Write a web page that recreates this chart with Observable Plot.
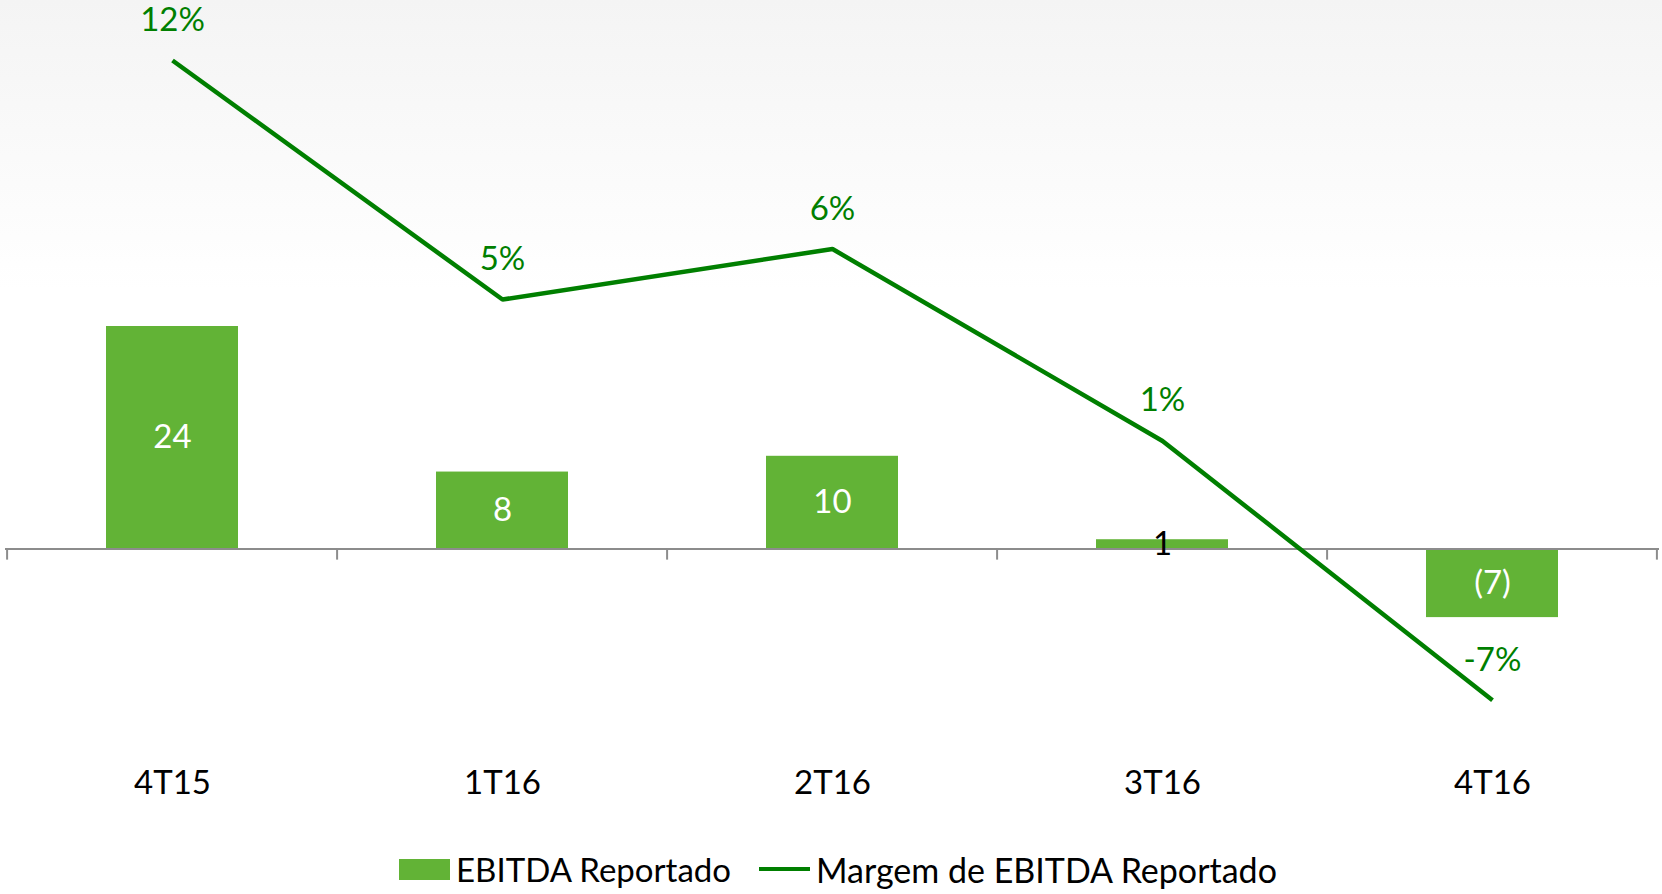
<!DOCTYPE html>
<html>
<head>
<meta charset="utf-8">
<script src="https://cdn.jsdelivr.net/npm/d3@7"></script>
<script src="https://cdn.jsdelivr.net/npm/@observablehq/plot@0.6"></script>
<style>
  html, body { margin: 0; padding: 0; }
  body {
    width: 1662px; height: 894px; overflow: hidden;
    background: linear-gradient(180deg, #f4f4f4 0px, #f9f9f9 130px, #ffffff 290px);
    font-family: Lato, "Open Sans", sans-serif;
  }
  #wrap { position: relative; width: 1662px; height: 846px; }
  #wrap svg { position: absolute; left: 0; top: 0; }
  #legend {
    display: flex; align-items: center; justify-content: center;
    height: 46px; padding-left: 14px; font-size: 33px; color: #000;
  }
  .sw-bar { width: 51px; height: 21px; background: #62b336; margin-right: 6px; }
  .sw-line { width: 51px; height: 4px; background: #007f00; margin-right: 6px; margin-left: 28px; }
  .t2 { font-size: 34px; }
</style>
</head>
<body>
<div id="wrap"></div>
<div id="legend">
  <span class="sw-bar"></span><span>EBITDA Reportado</span>
  <span class="sw-line"></span><span class="t2">Margem de EBITDA Reportado</span>
</div>
<script>
// ---- data ----
const quarters = ["4T15", "1T16", "2T16", "3T16", "4T16"];
const ebitda = [24, 8.3, 10, 1, -7.4];
const ebitdaLabels = ["24", "8", "10", "1", "(7)"];
const margin = [12.0, 4.9, 6.4, 0.7, -7.0];
const marginLabels = ["12%", "5%", "6%", "1%", "-7%"];

const barColor = "#62b336";
const lineColor = "#007f00";
const axisColor = "#8c8c8c";

const W = 1662, H = 846, ML = 5, MR = 3, MB = 76, MT = 0;
const step = (W - ML - MR) / quarters.length;
const fontFamily = "Lato, 'Open Sans', sans-serif";

const bars = quarters.map((q, i) => ({q, v: ebitda[i], label: ebitdaLabels[i]}));
const lineRows = quarters.map((q, i) => ({q, m: margin[i], label: marginLabels[i]}));

const common = {
  width: W, height: H, marginLeft: ML, marginRight: MR, marginTop: MT, marginBottom: MB,
  style: {background: "transparent", fontFamily, overflow: "visible"},
  x: {domain: quarters, type: "band", padding: 0, axis: null}
};

const barPlot = Plot.plot({
  ...common,
  y: {domain: [0, 24], range: [548.5, 326], axis: null},
  marks: [
    Plot.barY(bars, {x: "q", y: "v", fill: barColor, insetLeft: 99, insetRight: 99}),
    Plot.ruleY([0], {stroke: axisColor, strokeWidth: 2}),
    Plot.ruleX(quarters, {x: d => d, y1: 0, y2: -1.2, dx: -step / 2, stroke: axisColor, strokeWidth: 2}),
    Plot.ruleX(quarters.slice(-1), {x: d => d, y1: 0, y2: -1.2, dx: step / 2 - 1, stroke: axisColor, strokeWidth: 2}),
    Plot.text(bars, Plot.stackY({
      x: "q", y: "v", text: "label",
      fill: d => Math.abs(d.v) < 2 ? "#000" : "#fff",
      fontSize: 33, fontFamily
    })),
    Plot.axisX({tickSize: 0, tickPadding: 0, fontSize: 33, fontFamily, color: "#000", label: null})
  ]
});

const linePlot = Plot.plot({
  ...common,
  y: {domain: [0, 12], range: [464, 60], axis: null},
  marks: [
    Plot.line(lineRows, {x: "q", y: "m", stroke: lineColor, strokeWidth: 4.5,
      strokeLinejoin: "miter", strokeLinecap: "butt"}),
    Plot.text(lineRows, {x: "q", y: "m", text: "label", dy: -40, fill: lineColor, fontSize: 33, fontFamily})
  ]
});

const wrap = document.getElementById("wrap");
wrap.appendChild(barPlot);
wrap.appendChild(linePlot);
</script>
</body>
</html>
